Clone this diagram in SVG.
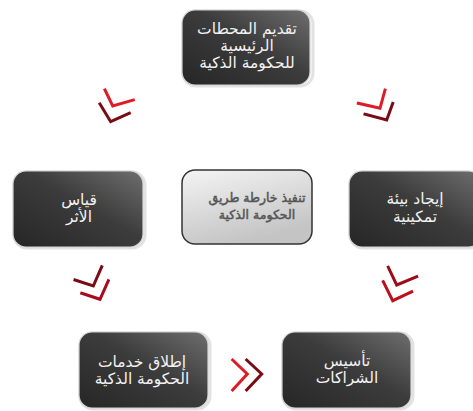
<svg xmlns="http://www.w3.org/2000/svg" width="473" height="411" viewBox="0 0 473 411">
<defs>
<linearGradient id="dark" x1="0" y1="1" x2="1" y2="0">
<stop offset="0" stop-color="#262626"/>
<stop offset="0.55" stop-color="#3c3c3c"/>
<stop offset="1" stop-color="#6e6e6e"/>
</linearGradient>
<linearGradient id="light" x1="0" y1="0" x2="0.4" y2="1">
<stop offset="0" stop-color="#f4f4f4"/>
<stop offset="1" stop-color="#c4c4c4"/>
</linearGradient>
</defs>
<style>
.box{fill:url(#dark);stroke:#d4d4d4;stroke-width:1.2}
.shadow{fill:none;stroke:#e2e2e2;stroke-width:3}
.t{font-family:"DejaVu Sans","Noto Sans",sans-serif;font-size:15.5px;fill:#f2f2f2;text-anchor:middle}
.tc{font-family:"DejaVu Sans","Noto Sans",sans-serif;font-size:12.5px;fill:#555;stroke:#555;stroke-width:0.5;text-anchor:middle}
.ch{fill:none;stroke-width:3;stroke-linecap:square;stroke-linejoin:miter}
.br{stroke:#dd1c28}
.dk{stroke:#7a0a14}
</style>
<g id="node-top">
<rect class="shadow" x="183" y="11" width="130" height="75" rx="13"/>
<rect class="box" x="182" y="10" width="128" height="75" rx="13"/>
<text class="t" x="247" y="34">تقديم المحطات</text>
<text class="t" x="247" y="51">الرئيسية</text>
<text class="t" x="247" y="68">للحكومة الذكية</text>
</g>
<g id="node-center">
<rect x="182" y="170" width="130" height="74" rx="13" fill="url(#light)" stroke="#333" stroke-width="1.5"/>
<text class="tc" x="257" y="202">تنفيذ خارطة طريق</text>
<text class="tc" x="257" y="219">الحكومة الذكية</text>
</g>
<g id="node-left">
<rect class="shadow" x="14" y="172" width="131" height="76" rx="13"/>
<rect class="box" x="13" y="171" width="130" height="76" rx="13"/>
<text class="t" x="79" y="205">قياس</text>
<text class="t" x="79" y="222">الأثر</text>
</g>
<g id="node-right">
<rect class="shadow" x="350" y="172" width="132" height="76" rx="13"/>
<rect class="box" x="349" y="171" width="132" height="76" rx="13"/>
<text class="t" x="415" y="204">إيجاد بيئة</text>
<text class="t" x="415" y="222">تمكينية</text>
</g>
<g id="node-bottom-left">
<rect class="shadow" x="80" y="333" width="130" height="76" rx="13"/>
<rect class="box" x="79" y="332" width="129" height="76" rx="13"/>
<text class="t" x="142" y="367">إطلاق خدمات</text>
<text class="t" x="142" y="384">الحكومة الذكية</text>
</g>
<g id="node-bottom-right">
<rect class="shadow" x="283" y="333" width="130" height="76" rx="13"/>
<rect class="box" x="282" y="332" width="129" height="76" rx="13"/>
<text class="t" x="347" y="366">تأسيس</text>
<text class="t" x="347" y="383">الشراكات</text>
</g>
<g id="connectors">
<polyline class="ch br" points="105,90 112.7,106 133.3,100"/>
<polyline class="ch dk" points="100,104 110.7,121.7 129.3,113.3"/>
<polyline class="ch br" points="358.3,103.3 380,108.3 385,90"/>
<polyline class="ch dk" points="365,114.3 386.7,120 392.7,103.3"/>
<polyline class="ch dk" points="75,280 93.3,286 101.7,266.7"/>
<polyline class="ch" stroke="#a80c1a" points="81.7,293.3 100,299.3 108.3,280.7"/>
<polyline class="ch" stroke="#9a0c18" points="388.3,267.3 396.7,285 416.7,276.7"/>
<polyline class="ch" stroke="#b8121e" points="383.3,281.7 392.7,300.7 411.7,291.7"/>
<polyline class="ch br" points="232.7,360 247.3,374 232.7,390"/>
<polyline class="ch dk" points="246.7,360 261.7,374 246.7,390"/>
</g>
</svg>
